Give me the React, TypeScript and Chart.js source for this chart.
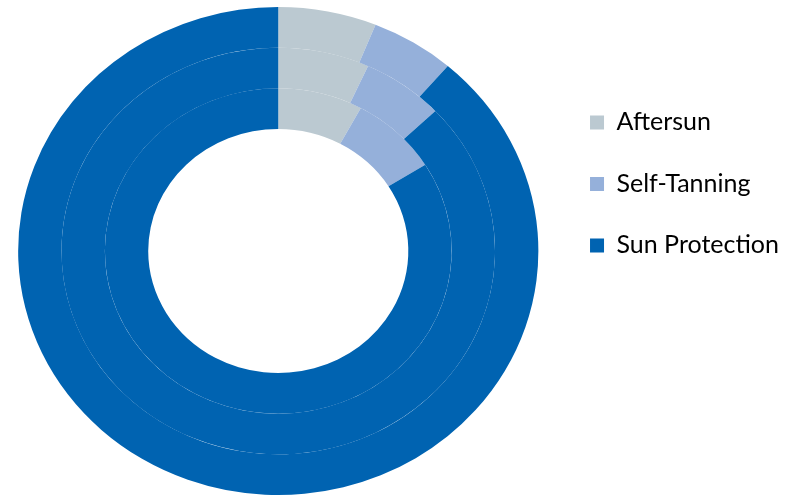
import React, { useEffect, useRef } from 'react';
import { Chart, registerables } from 'chart.js';

Chart.register(...registerables);

// Categories (legend entries)
const categories = ['Aftersun', 'Self-Tanning', 'Sun Protection'];
// Ring values in percent (outer → inner)
const ringNames = ['Outer ring', 'Middle ring', 'Inner ring'];
const outerRing = [6.1, 5.2, 88.7];
const middleRing = [6.8, 6.1, 87.1];
const innerRing = [7.9, 8.2, 83.9];
const colors = ['#BBC9D1', '#95B0DA', '#0063B1'];

const X_STRETCH = 1.066;

const stretchPlugin = {
  id: 'hStretch',
  beforeDatasetsDraw(chart: any) {
    const arc = chart.getDatasetMeta(0).data[0];
    const ctx = chart.ctx;
    ctx.save();
    ctx.translate(arc.x, arc.y);
    ctx.scale(X_STRETCH, 1);
    ctx.translate(-arc.x, -arc.y);
  },
  afterDatasetsDraw(chart: any) {
    chart.ctx.restore();
  },
};

export default function App() {
  const ref = useRef<HTMLCanvasElement | null>(null);

  useEffect(() => {
    document.body.style.margin = '0';
    const canvas = ref.current;
    if (!canvas) return;
    const rings = [outerRing, middleRing, innerRing];
    const chart = new Chart(canvas, {
      type: 'doughnut',
      data: {
        labels: categories,
        datasets: rings.map((vals, i) => ({
          label: ringNames[i],
          data: vals,
          backgroundColor: colors,
          borderWidth: 0,
        })),
      },
      options: {
        responsive: false,
        animation: false,
        cutout: '50%',
        layout: { padding: { top: 7, bottom: 1, left: 3, right: 11 } },
        plugins: {
          tooltip: { enabled: false },
          legend: {
            position: 'right',
            align: 'start',
            title: {
              display: true,
              text: '',
              font: { size: 12 },
              padding: { top: 52, bottom: 0 },
            },
            labels: {
              boxWidth: 14,
              boxHeight: 14,
              padding: 36.5,
              color: '#000000',
              font: { family: 'Lato', size: 25 },
            },
          },
        },
      } as any,
      plugins: [stretchPlugin],
    });
    return () => chart.destroy();
  }, []);

  return (
    <div style={{ width: 800, height: 496 }}>
      <canvas ref={ref} width={800} height={496} style={{ display: 'block' }} />
    </div>
  );
}
